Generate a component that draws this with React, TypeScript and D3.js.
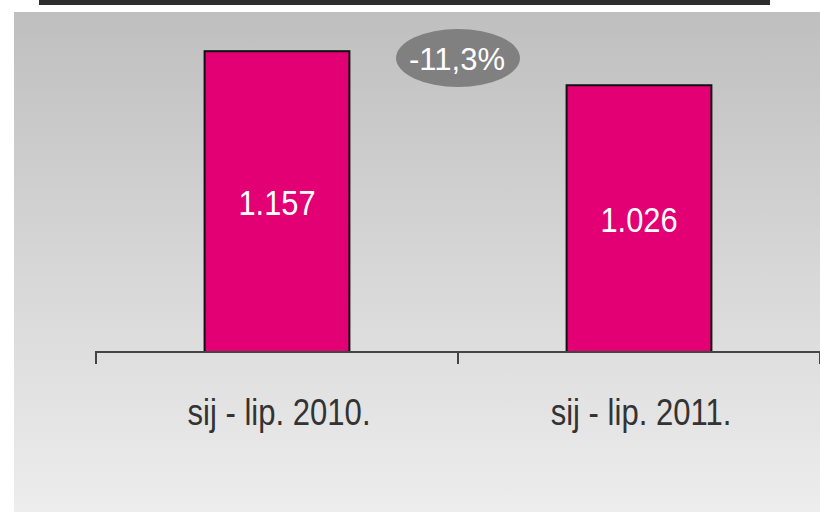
import React from "react";
import * as d3 from "d3";

const categories: string[] = ["sij - lip. 2010.", "sij - lip. 2011."];
const values: number[] = [1157, 1026];
const valueLabels: string[] = ["1.157", "1.026"];
const changeLabel = "-11,3%";

const W = 820;
const H = 512;
const FONT = "'Liberation Sans', Arial, sans-serif";

export default function App() {
  const x = d3.scaleBand<string>().domain(categories).range([96, 820]).paddingInner(0.6).paddingOuter(0.3);
  const y = d3.scaleLinear().domain([0, 1200]).range([352, 40]);
  const baseY = y(0);
  const bw = x.bandwidth();
  const step = x.step();
  const tickXs = [0, 1, 2].map((i) => 96 + i * step);
  const ellX = ((x(categories[0]) as number) + bw + (x(categories[1]) as number)) / 2;

  return (
    <svg width={W} height={H} style={{ position: "absolute", left: 0, top: 0 }}>
      <defs>
        <linearGradient id="bg" x1="0" y1="0" x2="0" y2="1">
          <stop offset="0" stopColor="#bfbfbf" />
          <stop offset="1" stopColor="#ededed" />
        </linearGradient>
      </defs>
      <rect x={0} y={0} width={W} height={H} fill="#ffffff" />
      <rect x={39} y={0} width={731} height={5} fill="#2d2d2d" />
      <rect x={14} y={12} width={W - 14} height={H - 12} fill="url(#bg)" />

      {categories.map((c, i) => {
        const bx = x(c) as number;
        const top = y(values[i]);
        const mid = (top + baseY) / 2;
        return (
          <g key={c}>
            <rect x={bx} y={top} width={bw} height={baseY - top} fill="#e20074" stroke="#111" strokeWidth={2} />
            <g transform={`translate(${bx + bw / 2},${mid + 13}) scale(0.88,1)`}>
              <text textAnchor="middle" fill="#ffffff" fontFamily={FONT} fontSize={35}>
                {valueLabels[i]}
              </text>
            </g>
            <g transform={`translate(${bx + bw / 2 + 2},425) scale(0.84,1)`}>
              <text textAnchor="middle" fill="#333333" fontFamily={FONT} fontSize={37}>
                {c}
              </text>
            </g>
          </g>
        );
      })}

      <path
        d={`M${tickXs[0]},364 V${baseY} H${tickXs[2]}`}
        fill="none"
        stroke="#444"
        strokeWidth={2}
      />
      {tickXs.slice(1).map((tx, i) => (
        <line key={i} x1={tx} x2={tx} y1={baseY} y2={364} stroke="#444" strokeWidth={2} />
      ))}

      <ellipse cx={ellX} cy={58} rx={62} ry={29} fill="#808080" />
      <g transform={`translate(${ellX - 1},69.5) scale(0.97,1)`}>
        <text textAnchor="middle" fill="#ffffff" fontFamily={FONT} fontSize={32}>
          {changeLabel}
        </text>
      </g>
    </svg>
  );
}
